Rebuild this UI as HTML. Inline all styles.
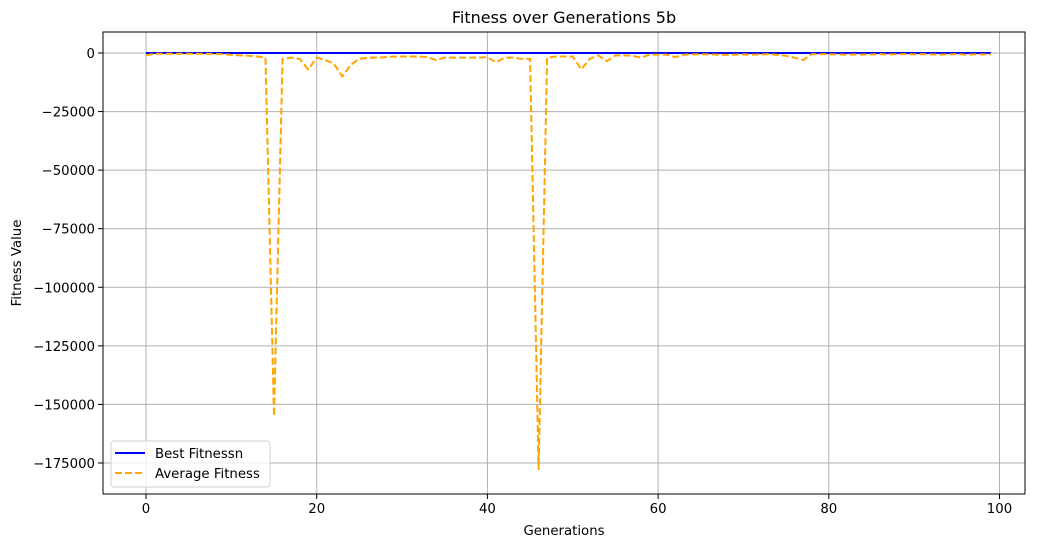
<!DOCTYPE html>
<html><head><meta charset="utf-8"><style>
body{margin:0;background:#fff;font-family:"DejaVu Sans","Liberation Sans",sans-serif;}
svg text{font-family:"DejaVu Sans","Liberation Sans",sans-serif;fill:#000;}
</style></head><body>
<svg id="c" width="1043" height="547"></svg>
<script>
const generations = Array.from({length:100},(_,i)=>i);
const bestFitness = new Array(100).fill(0);
const avgFitness = [-1000,-300,-300,-300,-300,-300,-300,-300,-400,-500,
-800,-1000,-1200,-1500,-2000,-155000,-2500,-2000,-2500,-7000,
-2000,-3000,-4500,-10000,-5000,-2500,-2000,-2000,-1800,-1500,
-1500,-1500,-1500,-1800,-3000,-2000,-2000,-2000,-2000,-2000,
-1800,-4000,-2000,-2000,-2500,-2500,-178000,-2000,-1500,-1500,
-1500,-7000,-2500,-1000,-3500,-1000,-1000,-1200,-2000,-700,
-700,-700,-1800,-700,-600,-500,-600,-700,-800,-700,
-600,-700,-600,-500,-800,-1200,-2000,-3000,-500,-500,
-500,-600,-700,-600,-700,-600,-500,-600,-500,-500,
-600,-500,-600,-700,-600,-500,-700,-600,-600,-600];
const xTicks=[0,20,40,60,80,100];
const yTicks=[0,-25000,-50000,-75000,-100000,-125000,-150000,-175000];
const L=103,R=1025,T=32,B=494;
const X=v=>146+v*8.535;
const Y=v=>53-v*0.0023428;
const svg=document.getElementById('c');
const NS='http://www.w3.org/2000/svg';
function mk(tag,attrs,parent){const e=document.createElementNS(NS,tag);for(const k in attrs)e.setAttribute(k,attrs[k]);(parent||svg).appendChild(e);return e;}
xTicks.forEach(t=>{
  const g=mk('line',{x1:X(t),x2:X(t),y1:T,y2:B,stroke:'#b0b0b0','stroke-width':1});
  
  
  mk('line',{x1:X(t),x2:X(t),y1:B,y2:B+5,stroke:'#000'});
  const tx=mk('text',{x:X(t),y:B+19,'text-anchor':'middle','font-size':13.3});
  tx.textContent=t;
  
  
});
yTicks.forEach(t=>{
  const g=mk('line',{x1:L,x2:R,y1:Y(t),y2:Y(t),stroke:'#b0b0b0','stroke-width':1});
  
  
  mk('line',{x1:L-5,x2:L,y1:Y(t),y2:Y(t),stroke:'#000'});
  const tx=mk('text',{x:L-8,y:Y(t)+5,'text-anchor':'end','font-size':13.3});
  tx.textContent=t===0?'0':'\u2212'+Math.abs(t);
  
  
});
const pb=generations.map((g,i)=>X(g)+','+Y(bestFitness[i])).join(' ');
const l1=mk('polyline',{points:pb,fill:'none',stroke:'#0000ff','stroke-width':2});


const pa=generations.map((g,i)=>X(g)+','+Y(avgFitness[i])).join(' ');
const l2=mk('polyline',{points:pa,fill:'none',stroke:'#ffa500','stroke-width':2,'stroke-dasharray':'7,3'});


const fr=mk('rect',{x:L,y:T,width:R-L,height:B-T,fill:'none',stroke:'#000','stroke-width':1});


const ti=mk('text',{x:(L+R)/2,y:23,'text-anchor':'middle','font-size':16});
ti.textContent='Fitness over Generations 5b';


const xl=mk('text',{x:(L+R)/2,y:535,'text-anchor':'middle','font-size':13.3});
xl.textContent='Generations';


const yl=mk('text',{x:0,y:0,'text-anchor':'middle','font-size':13.3,transform:'translate(21,263) rotate(-90)'});
yl.textContent='Fitness Value';


const lg=mk('g',{});


mk('rect',{x:111,y:441,width:159,height:46,rx:3,fill:'#fff','fill-opacity':0.8,stroke:'#d0d0d0'},lg);
mk('line',{x1:115,x2:145,y1:453,y2:453,stroke:'#0000ff','stroke-width':2},lg);
mk('line',{x1:115,x2:145,y1:473,y2:473,stroke:'#ffa500','stroke-width':2,'stroke-dasharray':'7,3'},lg);
const e1=mk('text',{x:155,y:458,'font-size':13.3},lg);e1.textContent='Best Fitnessn';


const e2=mk('text',{x:155,y:478,'font-size':13.3},lg);e2.textContent='Average Fitness';


</script>
</body></html>
